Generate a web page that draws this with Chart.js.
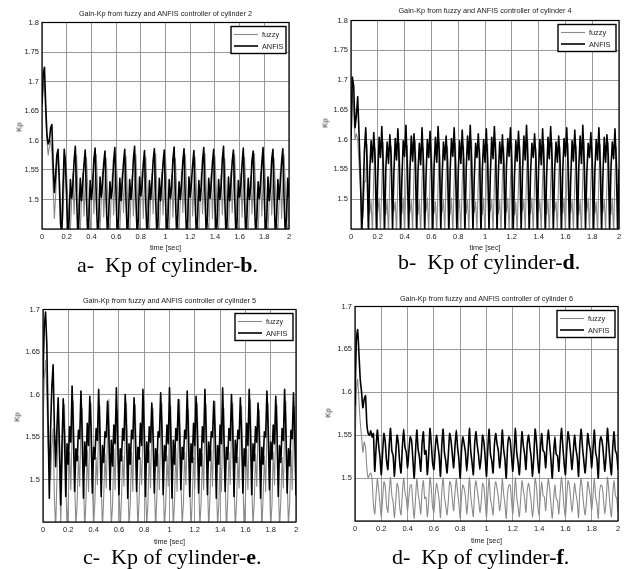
<!DOCTYPE html>
<html>
<head>
<meta charset="utf-8">
<script src="https://cdn.jsdelivr.net/npm/chart.js@4/dist/chart.umd.min.js"></script>
<style>
  body { margin: 0; background: #fff; }
  #fig { position: relative; width: 624px; height: 569px; overflow: hidden; background: #fff; }
  #fig canvas { position: absolute; }
  .lbl { position: absolute; font-family: 'Liberation Sans', Arial, sans-serif; font-size: 7.3px; color: #222; white-space: nowrap; transform: translate(-50%, -50%); }
  .kp { transform: translate(-50%, -50%) rotate(-90deg); font-size: 7.8px; }
  .cap { position: absolute; font-family: 'Liberation Serif', 'Times New Roman', serif; font-size: 22px; line-height: 22px; color: #000; white-space: pre; }
</style>
</head>
<body>
<div id="fig"></div>
<script>
const timeStep = 0.01;

// cylinder 2
const aFuzzy = [
  1.655,1.690,1.700,1.640,1.600,1.575,1.590,1.600,1.580,1.520,
  1.468,1.505,1.555,1.572,1.545,1.490,1.452,1.470,1.540,1.575,
  1.540,1.500,1.455,1.448,1.500,1.545,1.475,
  1.530,1.575,1.518,1.458,1.446,1.502,1.545,1.472,
  1.528,1.572,1.522,1.460,1.444,1.498,1.542,1.476,
  1.532,1.576,1.520,1.456,1.448,1.500,1.548,1.470,
  1.526,1.570,1.516,1.462,1.445,1.504,1.544,1.474,
  1.530,1.578,1.524,1.458,1.446,1.498,1.546,1.478,
  1.534,1.574,1.518,1.456,1.444,1.502,1.540,1.472,
  1.528,1.576,1.522,1.460,1.448,1.500,1.548,1.468,
  1.530,1.572,1.520,1.458,1.445,1.504,1.544,1.476,
  1.532,1.578,1.516,1.462,1.446,1.498,1.546,1.474,
  1.526,1.574,1.524,1.456,1.444,1.502,1.542,1.470,
  1.530,1.570,1.518,1.460,1.448,1.500,1.548,1.478,
  1.534,1.576,1.522,1.458,1.445,1.504,1.540,1.472,
  1.528,1.572,1.520,1.456,1.446,1.498,1.546,1.476,
  1.530,1.578,1.516,1.462,1.444,1.502,1.544,1.468,
  1.532,1.574,1.524,1.458,1.448,1.500,1.542,1.474,
  1.526,1.570,1.518,1.460,1.445,1.504,1.548,1.478,
  1.530,1.576,1.522,1.456,1.446,1.498,1.544,1.470,
  1.534,1.572,1.520,1.462,1.444,1.502,1.540,1.476,
  1.528,1.578,1.516,1.458,1.448,1.500,1.546,1.472,
  1.530,1.574,1.524,1.456,1.445,1.504,1.542,1.474,
  1.532,1.570,1.518,1.460,1.446,1.498,1.548,1.468,
  1.526,1.576,1.522,1.458,1.444,1.502
];
const aAnfis = [
  1.662,1.712,1.724,1.660,1.610,1.594,1.600,1.622,1.627,1.560,
  1.512,1.540,1.575,1.585,1.530,1.460,1.440,1.520,1.585,1.560,
  1.500,1.442,1.468,1.534,1.502,1.524,1.566,
  1.590,1.505,1.440,1.472,1.536,1.498,1.528,1.560,
  1.584,1.502,1.438,1.470,1.532,1.500,1.522,1.568,
  1.587,1.500,1.442,1.466,1.538,1.504,1.526,1.562,
  1.582,1.498,1.440,1.474,1.530,1.502,1.520,1.566,
  1.588,1.506,1.436,1.468,1.536,1.498,1.530,1.562,
  1.585,1.500,1.440,1.470,1.534,1.500,1.524,1.568,
  1.590,1.504,1.442,1.466,1.538,1.506,1.522,1.560,
  1.583,1.498,1.438,1.472,1.532,1.500,1.528,1.566,
  1.586,1.502,1.440,1.468,1.536,1.498,1.526,1.562,
  1.584,1.500,1.436,1.470,1.534,1.502,1.520,1.568,
  1.589,1.506,1.442,1.474,1.530,1.500,1.524,1.564,
  1.586,1.500,1.440,1.466,1.538,1.504,1.528,1.560,
  1.583,1.498,1.438,1.470,1.532,1.498,1.522,1.566,
  1.588,1.504,1.440,1.472,1.536,1.502,1.526,1.562,
  1.585,1.500,1.442,1.468,1.534,1.500,1.520,1.568,
  1.590,1.502,1.436,1.470,1.538,1.498,1.528,1.564,
  1.584,1.506,1.440,1.466,1.532,1.504,1.524,1.560,
  1.587,1.500,1.438,1.474,1.536,1.500,1.522,1.566,
  1.582,1.498,1.442,1.470,1.530,1.502,1.526,1.562,
  1.588,1.504,1.440,1.468,1.538,1.498,1.520,1.568,
  1.585,1.500,1.436,1.472,1.534,1.500,1.528,1.564,
  1.586,1.502,1.440,1.470,1.536,1.504
];

// cylinder 4
const bFuzzy = [
  1.580,1.680,1.650,1.600,1.610,1.600,1.560,1.520,1.500,1.470,1.530,
  1.530,1.592,1.502,1.476,1.498,1.442,
  1.540,1.586,1.498,1.478,1.502,1.446,
  1.526,1.596,1.504,1.474,1.500,1.440,
  1.536,1.588,1.500,1.480,1.496,1.444,
  1.532,1.594,1.502,1.476,1.502,1.442,
  1.528,1.590,1.498,1.478,1.498,1.446,
  1.542,1.598,1.504,1.474,1.500,1.440,
  1.530,1.586,1.500,1.480,1.502,1.444,
  1.536,1.592,1.502,1.476,1.496,1.442,
  1.526,1.596,1.498,1.478,1.500,1.446,
  1.540,1.588,1.504,1.474,1.502,1.440,
  1.532,1.594,1.500,1.480,1.498,1.444,
  1.528,1.590,1.502,1.476,1.500,1.442,
  1.542,1.598,1.498,1.478,1.496,1.446,
  1.530,1.586,1.504,1.474,1.502,1.440,
  1.536,1.592,1.500,1.480,1.500,1.444,
  1.526,1.596,1.502,1.476,1.498,1.442,
  1.540,1.588,1.498,1.478,1.502,1.446,
  1.532,1.594,1.504,1.474,1.496,1.440,
  1.528,1.590,1.500,1.480,1.500,1.444,
  1.542,1.598,1.502,1.476,1.502,1.442,
  1.530,1.586,1.498,1.478,1.498,1.446,
  1.536,1.592,1.504,1.474,1.500,1.440,
  1.526,1.596,1.500,1.480,1.496,1.444,
  1.540,1.588,1.502,1.476,1.502,1.442,
  1.532,1.594,1.498,1.478,1.500,1.446,
  1.528,1.590,1.504,1.474,1.498,1.440,
  1.542,1.598,1.500,1.480,1.502,1.444,
  1.530,1.586,1.502,1.476,1.496,1.442,
  1.536,1.592,1.498,1.478,1.500,1.446,
  1.526,1.596,1.504,1.474,1.502,1.440,
  1.540,1.588,1.500,1.478
];
const bAnfis = [
  1.600,1.705,1.690,1.620,1.640,1.672,1.610,1.540,1.440,1.500,1.580,
  1.620,1.560,1.442,1.548,1.598,1.562,
  1.612,1.566,1.446,1.540,1.604,1.570,
  1.622,1.558,1.440,1.552,1.596,1.560,
  1.608,1.570,1.448,1.544,1.602,1.566,
  1.618,1.562,1.442,1.536,1.598,1.572,
  1.624,1.556,1.444,1.550,1.606,1.564,
  1.610,1.568,1.440,1.546,1.594,1.558,
  1.620,1.564,1.446,1.540,1.600,1.570,
  1.614,1.558,1.442,1.554,1.604,1.562,
  1.622,1.570,1.448,1.538,1.596,1.566,
  1.606,1.562,1.440,1.548,1.602,1.572,
  1.620,1.556,1.444,1.544,1.598,1.560,
  1.616,1.568,1.442,1.552,1.606,1.566,
  1.624,1.560,1.446,1.536,1.594,1.570,
  1.610,1.566,1.440,1.550,1.600,1.562,
  1.618,1.558,1.448,1.542,1.604,1.568,
  1.622,1.570,1.442,1.546,1.596,1.560,
  1.608,1.562,1.444,1.554,1.602,1.572,
  1.620,1.556,1.440,1.538,1.598,1.564,
  1.614,1.568,1.446,1.548,1.606,1.566,
  1.624,1.560,1.442,1.544,1.594,1.570,
  1.610,1.566,1.448,1.552,1.600,1.558,
  1.618,1.558,1.440,1.540,1.604,1.568,
  1.622,1.570,1.444,1.550,1.596,1.562,
  1.606,1.562,1.442,1.546,1.602,1.572,
  1.620,1.556,1.446,1.536,1.598,1.564,
  1.616,1.568,1.440,1.554,1.606,1.560,
  1.624,1.560,1.448,1.544,1.594,1.570,
  1.612,1.566,1.442,1.548,1.600,1.566,
  1.620,1.558,1.444,1.540,1.604,1.562,
  1.608,1.570,1.446,1.552,1.596,1.568,
  1.618,1.560,1.442,1.550
];

// cylinder 5
const cFuzzy = [
  1.560,1.620,1.640,1.600,1.540,1.520,1.500,1.540,1.560,1.480,
  1.440,1.500,1.580,1.520,1.450,1.500,
  1.562,1.588,1.502,1.442,1.476,1.532,1.488,
  1.556,1.592,1.498,1.446,1.472,1.528,1.492,
  1.566,1.584,1.504,1.440,1.478,1.534,1.486,
  1.558,1.590,1.500,1.444,1.474,1.526,1.494,
  1.564,1.586,1.496,1.442,1.480,1.530,1.490,
  1.554,1.594,1.502,1.446,1.470,1.536,1.488,
  1.562,1.582,1.498,1.440,1.476,1.528,1.492,
  1.560,1.590,1.504,1.444,1.472,1.532,1.486,
  1.566,1.588,1.500,1.442,1.478,1.526,1.494,
  1.556,1.592,1.496,1.446,1.474,1.534,1.490,
  1.562,1.584,1.502,1.440,1.480,1.530,1.488,
  1.558,1.590,1.498,1.444,1.470,1.528,1.492,
  1.564,1.586,1.504,1.442,1.476,1.536,1.486,
  1.554,1.594,1.500,1.446,1.472,1.532,1.494,
  1.562,1.582,1.496,1.440,1.478,1.526,1.490,
  1.560,1.590,1.502,1.444,1.474,1.530,1.488,
  1.566,1.588,1.498,1.442,1.480,1.534,1.492,
  1.556,1.592,1.504,1.446,1.470,1.528,1.486,
  1.562,1.584,1.500,1.440,1.476,1.532,1.494,
  1.558,1.590,1.496,1.444,1.472,1.526,1.490,
  1.564,1.586,1.502,1.442,1.478,1.536,1.488,
  1.554,1.594,1.498,1.446,1.474,1.530,1.492,
  1.562,1.582,1.504,1.440,1.480,1.528,1.486,
  1.560,1.590,1.500,1.444,1.470,1.532,1.494,
  1.566,1.588,1.496,1.442,1.476,1.526,1.490,
  1.556,1.592,1.502,1.446,1.472,1.534,1.488,
  1.562,1.586,1.500
];
const cAnfis = [
  1.620,1.680,1.697,1.660,1.570,1.478,1.560,1.610,1.635,1.560,
  1.515,1.560,1.596,1.540,1.470,1.540,
  1.595,1.552,1.480,1.542,1.518,1.562,1.544,
  1.610,1.556,1.486,1.536,1.522,1.558,1.548,
  1.604,1.550,1.478,1.544,1.516,1.566,1.540,
  1.598,1.558,1.484,1.538,1.524,1.560,1.546,
  1.606,1.552,1.480,1.540,1.520,1.556,1.550,
  1.592,1.556,1.488,1.546,1.516,1.564,1.542,
  1.608,1.550,1.482,1.536,1.522,1.560,1.546,
  1.600,1.558,1.478,1.542,1.518,1.558,1.548,
  1.596,1.552,1.486,1.538,1.524,1.566,1.540,
  1.606,1.556,1.480,1.544,1.520,1.562,1.544,
  1.590,1.550,1.484,1.536,1.516,1.556,1.550,
  1.602,1.558,1.482,1.540,1.522,1.564,1.542,
  1.608,1.552,1.478,1.546,1.518,1.560,1.546,
  1.594,1.556,1.488,1.538,1.524,1.558,1.548,
  1.604,1.550,1.480,1.542,1.520,1.566,1.540,
  1.598,1.558,1.484,1.536,1.516,1.562,1.544,
  1.606,1.552,1.482,1.544,1.522,1.556,1.550,
  1.592,1.556,1.478,1.540,1.518,1.564,1.542,
  1.608,1.550,1.486,1.538,1.524,1.560,1.546,
  1.600,1.558,1.480,1.546,1.520,1.558,1.548,
  1.596,1.552,1.484,1.536,1.516,1.566,1.540,
  1.606,1.556,1.482,1.542,1.522,1.562,1.544,
  1.590,1.550,1.478,1.538,1.518,1.556,1.550,
  1.604,1.558,1.488,1.544,1.524,1.564,1.542,
  1.598,1.552,1.480,1.540,1.520,1.560,1.546,
  1.606,1.556,1.484,1.536,1.516,1.558,1.548,
  1.602,1.552,1.482
];

// cylinder 6
const dFuzzy = [
  1.525,1.600,1.615,1.590,1.565,1.548,1.530,1.542,1.536,1.512,
  1.500,1.504,1.506,1.498,1.470,
  1.458,1.480,1.499,1.486,1.470,  1.455,1.476,1.496,1.490,1.468,
  1.460,1.484,1.501,1.480,1.472,  1.454,1.474,1.494,1.488,1.466,
  1.457,1.482,1.500,1.484,1.476,  1.462,1.478,1.492,1.492,1.470,
  1.453,1.476,1.499,1.482,1.472,  1.458,1.486,1.497,1.476,1.478,
  1.455,1.472,1.501,1.488,1.466,  1.460,1.480,1.494,1.486,1.474,
  1.454,1.484,1.500,1.478,1.468,  1.457,1.474,1.496,1.492,1.476,
  1.462,1.482,1.499,1.484,1.470,  1.453,1.478,1.492,1.488,1.478,
  1.458,1.476,1.501,1.480,1.466,  1.455,1.486,1.497,1.486,1.474,
  1.460,1.472,1.494,1.490,1.472,  1.454,1.480,1.500,1.476,1.468,
  1.457,1.484,1.496,1.488,1.478,  1.462,1.474,1.499,1.482,1.470,
  1.453,1.482,1.492,1.492,1.474,  1.458,1.478,1.501,1.478,1.466,
  1.455,1.476,1.497,1.486,1.476,  1.460,1.486,1.494,1.484,1.472,
  1.454,1.472,1.500,1.490,1.468,  1.457,1.480,1.496,1.480,1.478,
  1.462,1.484,1.499,1.488,1.470,  1.453,1.474,1.492,1.476,1.474,
  1.458,1.482,1.501,1.486,1.466,  1.455,1.478,1.497,1.492,1.476,
  1.460,1.476,1.494,1.482,1.472,  1.454,1.486,1.500,1.484,1.468,
  1.457,1.472,1.496,1.488,1.478,  1.462,1.480,1.499,1.478,1.470,
  1.453,1.484,1.492,1.490,1.474,  1.458,1.474,1.501,1.486,1.466,
  1.455,1.482,1.497,1.480,1.476,
  1.460
];
const dAnfis = [
  1.585,1.660,1.673,1.645,1.615,1.600,1.582,1.592,1.596,1.563,
  1.552,1.550,1.555,1.548,1.552,
  1.508,1.534,1.556,1.538,1.524,  1.504,1.530,1.552,1.542,1.520,
  1.510,1.538,1.558,1.532,1.526,  1.502,1.528,1.550,1.540,1.518,
  1.506,1.536,1.557,1.536,1.530,  1.512,1.532,1.548,1.544,1.522,
  1.500,1.530,1.556,1.534,1.524,  1.508,1.540,1.554,1.528,1.532,
  1.504,1.526,1.558,1.540,1.518,  1.510,1.534,1.550,1.538,1.526,
  1.502,1.538,1.557,1.530,1.520,  1.506,1.528,1.552,1.544,1.528,
  1.512,1.536,1.556,1.536,1.522,  1.500,1.532,1.548,1.540,1.530,
  1.508,1.530,1.558,1.532,1.518,  1.504,1.540,1.554,1.538,1.526,
  1.510,1.526,1.550,1.542,1.524,  1.502,1.534,1.557,1.528,1.520,
  1.506,1.538,1.552,1.540,1.532,  1.512,1.528,1.556,1.534,1.522,
  1.500,1.536,1.548,1.544,1.526,  1.508,1.532,1.558,1.530,1.518,
  1.504,1.530,1.554,1.538,1.528,  1.510,1.540,1.550,1.536,1.524,
  1.502,1.526,1.557,1.542,1.520,  1.506,1.534,1.552,1.532,1.530,
  1.512,1.538,1.556,1.540,1.522,  1.500,1.528,1.548,1.528,1.526,
  1.508,1.536,1.558,1.538,1.518,  1.504,1.532,1.554,1.544,1.528,
  1.510,1.530,1.550,1.534,1.524,  1.502,1.540,1.557,1.536,1.520,
  1.506,1.526,1.552,1.540,1.532,  1.512,1.534,1.556,1.530,1.522,
  1.500,1.538,1.548,1.542,1.526,  1.508,1.528,1.558,1.538,1.518,
  1.504,1.536,1.554,1.532,1.528,
  1.510
];

const xTicks = [0, 0.2, 0.4, 0.6, 0.8, 1, 1.2, 1.4, 1.6, 1.8, 2];
const yTicksTall = [1.45, 1.5, 1.55, 1.6, 1.65, 1.7, 1.75, 1.8];
const yTicksShort = [1.45, 1.5, 1.55, 1.6, 1.65, 1.7];
const seriesNames = ['fuzzy', 'ANFIS'];

const timeSec = aFuzzy.map((_, i) => +(i * timeStep).toFixed(2));

const panels = [
  { cyl: 2, fuzzy: aFuzzy, anfis: aAnfis, yMax: 1.8, yTicks: yTicksTall, tension: 0,
    L: 42, T: 21, R: 289, B: 229, titleY: 12.5, kpX: 19, kpY: 127, timeY: 247,
    capX: 77, capY: 253.5, capText: 'a-  Kp of cylinder-', capBold: 'b' },
  { cyl: 4, fuzzy: bFuzzy, anfis: bAnfis, yMax: 1.8, yTicks: yTicksTall, tension: 0,
    L: 351, T: 19, R: 619, B: 229, titleY: 9.5, kpX: 325, kpY: 123, timeY: 247,
    capX: 398, capY: 251, capText: 'b-  Kp of cylinder-', capBold: 'd' },
  { cyl: 5, fuzzy: cFuzzy, anfis: cAnfis, yMax: 1.7, yTicks: yTicksShort, tension: 0,
    L: 43, T: 308, R: 296, B: 522, titleY: 300, kpX: 17, kpY: 417, timeY: 541,
    capX: 83, capY: 546, capText: 'c-  Kp of cylinder-', capBold: 'e' },
  { cyl: 6, fuzzy: dFuzzy, anfis: dAnfis, yMax: 1.7, yTicks: yTicksShort, tension: 0.2,
    L: 355, T: 305, R: 618, B: 521, titleY: 297.5, kpX: 328, kpY: 413, timeY: 540,
    capX: 392, capY: 546, capText: 'd-  Kp of cylinder-', capBold: 'f' },
];

const tickFont = { family: "'Liberation Sans', Arial, sans-serif", size: 7.5 };

// black box round the plot area, like matlab's axes
const framePlugin = {
  id: 'frame',
  afterDatasetsDraw(chart) {
    const a = chart.chartArea;
    const c = chart.ctx;
    c.save();
    c.strokeStyle = '#000';
    c.lineWidth = 1.2;
    c.strokeRect(a.left, a.top, a.right - a.left, a.bottom - a.top);
    c.restore();
  },
};

const boxLegendPlugin = {
  id: 'boxLegend',
  afterDraw(chart, args, opts) {
    const a = chart.chartArea;
    const c = chart.ctx;
    const w = opts.width || 56, h = 27;
    const x = a.right - 3 - w, y = a.top + 4;
    c.save();
    c.fillStyle = '#fff';
    c.fillRect(x, y, w, h);
    c.strokeStyle = '#000';
    c.lineWidth = 1.4;
    c.strokeRect(x, y, w, h);
    c.font = "7.3px 'Liberation Sans', Arial, sans-serif";
    c.textBaseline = 'middle';
    c.textAlign = 'left';
    chart.data.datasets.forEach((ds, i) => {
      const ry = y + 8 + i * 11.5;
      c.strokeStyle = ds.borderColor;
      c.lineWidth = ds.borderWidth;
      c.beginPath();
      c.moveTo(x + 3, ry);
      c.lineTo(x + 27, ry);
      c.stroke();
      c.fillStyle = '#222';
      c.fillText(ds.label, x + 31, ry + 0.5);
    });
    c.restore();
  },
};

function addLabel(fig, cls, text, x, y) {
  const el = document.createElement('div');
  el.className = cls;
  el.textContent = text;
  el.style.left = x + 'px';
  el.style.top = y + 'px';
  fig.appendChild(el);
}

function makePanel(fig, p) {
  const padL = 2, padT = 6, padR = 6, padB = 2, yW = 30, xH = 16;
  const canvas = document.createElement('canvas');
  canvas.width = (p.R - p.L) + padL + yW + padR;
  canvas.height = (p.B - p.T) + padT + padB + xH;
  canvas.style.left = (p.L - padL - yW) + 'px';
  canvas.style.top = (p.T - padT) + 'px';
  fig.appendChild(canvas);

  const pts = vals => vals.map((v, i) => ({ x: timeSec[i], y: v }));

  new Chart(canvas, {
    type: 'line',
    data: {
      datasets: [
        { label: seriesNames[0], data: pts(p.fuzzy), borderColor: '#8a8a8a', borderWidth: 1.1, order: 2 },
        { label: seriesNames[1], data: pts(p.anfis), borderColor: '#000', borderWidth: 1.6, order: 1 },
      ],
    },
    options: {
      responsive: false,
      animation: false,
      devicePixelRatio: 1,
      layout: { padding: { left: padL, top: padT, right: padR, bottom: padB } },
      elements: {
        point: { radius: 0 },
        line: { tension: p.tension, borderJoinStyle: 'round', borderCapStyle: 'round' },
      },
      plugins: {
        legend: { display: false },
        tooltip: { enabled: false },
        boxLegend: { width: p.cyl === 2 ? 55 : 58 },
      },
      scales: {
        x: {
          type: 'linear', min: 0, max: 2,
          afterBuildTicks: s => { s.ticks = xTicks.map(v => ({ value: v })); },
          afterFit: s => { s.height = xH; },
          ticks: { font: tickFont, color: '#222', padding: 3, maxRotation: 0,
                   callback: v => String(+v.toFixed(1)) },
          grid: { color: '#8e8e8e', lineWidth: 0.9, drawTicks: false },
          border: { display: false },
        },
        y: {
          type: 'linear', min: 1.45, max: p.yMax,
          afterBuildTicks: s => { s.ticks = p.yTicks.map(v => ({ value: v })); },
          afterFit: s => { s.width = yW; },
          ticks: { font: tickFont, color: '#222', padding: 3,
                   callback: v => (v < 1.46 ? '' : String(+v.toFixed(2))) },
          grid: { color: '#8e8e8e', lineWidth: 0.9, drawTicks: false },
          border: { display: false },
        },
      },
    },
    plugins: [framePlugin, boxLegendPlugin],
  });

  const midX = (p.L + p.R) / 2;
  addLabel(fig, 'lbl', `Gain-Kp from fuzzy and ANFIS controller of cylinder ${p.cyl}`, midX, p.titleY);
  addLabel(fig, 'lbl kp', 'Kp', p.kpX, p.kpY);
  addLabel(fig, 'lbl', 'time [sec]', midX, p.timeY);

  const cap = document.createElement('div');
  cap.className = 'cap';
  cap.style.left = p.capX + 'px';
  cap.style.top = p.capY + 'px';
  cap.appendChild(document.createTextNode(p.capText));
  const b = document.createElement('b');
  b.textContent = p.capBold;
  cap.appendChild(b);
  cap.appendChild(document.createTextNode('.'));
  fig.appendChild(cap);
}

const fig = document.getElementById('fig');
panels.forEach(p => makePanel(fig, p));
</script>
</body>
</html>
